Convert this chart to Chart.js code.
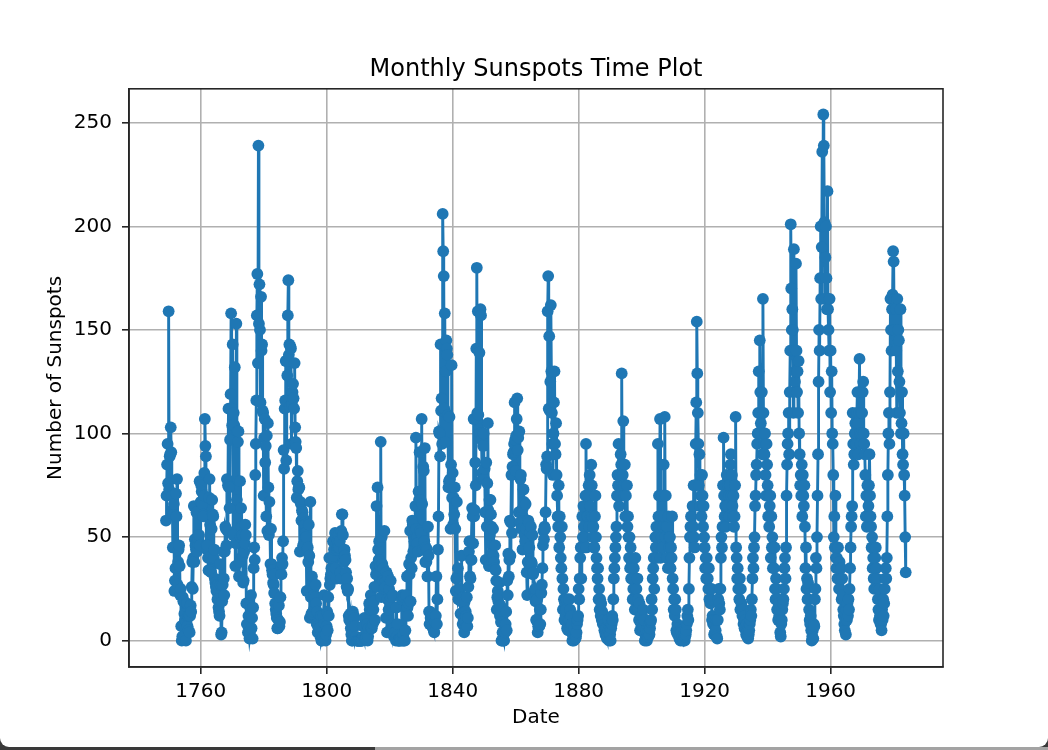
<!DOCTYPE html>
<html>
<head>
<meta charset="utf-8">
<script src="https://cdn.jsdelivr.net/npm/chart.js@4.4.1/dist/chart.umd.min.js"></script>
<style>
  html, body { margin: 0; padding: 0; }
  body { width: 1048px; height: 750px; background: #3a3a3a; position: relative; overflow: hidden; }
  #win { position: absolute; left: 0; top: 0; width: 1048px; height: 747px; background: #fff;
         border-bottom-left-radius: 9px; border-bottom-right-radius: 9px; }
  #strip { position: absolute; left: 375px; bottom: 0; width: 673px; height: 3px; background: #a3a3a3; }
  #chart { position: absolute; left: 0; top: 0; }
</style>
</head>
<body>
<div id="win"></div>
<div id="strip"></div>
<canvas id="chart" width="1048" height="750"></canvas>
<script>
// monthly sunspot numbers: 6 readings a year (Jan, Mar, May, Jul, Sep, Nov)
const startYear = 1749;
const perYear = 6;
const sunspots = [
  // 1749
  58, 70, 85, 95, 76, 159,
  73, 89, 90, 103, 91, 63,
  70, 45, 61, 66, 24, 29,
  35, 71, 60, 78, 27, 38,
  44, 46, 36, 22, 25, 7,
  0, 2, 21, 19, 8, 13,
  10, 7, 0, 9, 18, 7,
  12, 5, 12, 4, 12, 17,
  14, 26, 38, 25, 40, 65,
  38, 49, 46, 44, 62, 43,
  48, 47, 49, 51, 77, 46,
  // 1760
  67, 75, 72, 66, 61, 60,
  70, 81, 107, 94, 89, 46,
  44, 46, 40, 34, 69, 78,
  56, 34, 33, 54, 68, 61,
  60, 40, 44, 30, 28, 26,
  24, 25, 20, 27, 16, 14,
  12, 37, 27, 3, 4, 19,
  27, 43, 30, 22, 43, 55,
  54, 46, 78, 53, 75, 112,
  74, 64, 97, 119, 158, 112,
  // 1770
  104, 143, 51, 110, 104, 132,
  36, 47, 153, 68, 101, 96,
  101, 31, 38, 77, 50, 64,
  55, 51, 41, 28, 29, 43,
  47, 56, 51, 18, 8, 18,
  4, 12, 4, 1, 3, 15,
  22, 6, 11, 1, 16, 35,
  45, 39, 80, 95, 116, 157,
  177, 134, 239, 153, 172, 150,
  115, 166, 140, 143, 111, 110,
  // 1780
  70, 98, 107, 86, 94, 60,
  99, 53, 105, 74, 51, 67,
  54, 37, 54, 37, 34, 32,
  28, 27, 23, 32, 18, 15,
  13, 11, 6, 6, 10, 17,
  7, 9, 21, 36, 32, 40,
  37, 48, 92, 83, 112, 116,
  135, 87, 135, 128, 157, 174,
  138, 143, 113, 142, 141, 95,
  114, 120, 124, 117, 112, 134,
  // 1790
  103, 96, 93, 69, 77, 82,
  73, 74, 74, 43, 67, 66,
  58, 63, 62, 46, 59, 57,
  56, 56, 52, 50, 24, 44,
  45, 38, 56, 41, 11, 67,
  21, 13, 31, 13, 14, 25,
  22, 16, 21, 27, 18, 8,
  14, 4, 7, 4, 6, 6,
  2, 12, 0, 0, 2, 12,
  2, 22, 8, 2, 0, 3,
  // 1800
  7, 14, 5, 21, 12, 40,
  27, 30, 32, 35, 34, 40,
  48, 41, 44, 48, 52, 35,
  50, 30, 44, 48, 45, 51,
  45, 48, 33, 30, 53, 61,
  61, 51, 39, 38, 44, 41,
  39, 33, 26, 30, 24, 25,
  12, 10, 10, 13, 6, 3,
  0, 0, 14, 7, 12, 11,
  7, 1, 2, 0, 0, 0,
  // 1810
  0, 0, 0, 0, 0, 0,
  0, 0, 0, 7, 2, 1,
  11, 1, 1, 1, 5, 8,
  0, 2, 6, 18, 15, 17,
  22, 6, 6, 19, 8, 15,
  19, 26, 10, 36, 32, 65,
  26, 74, 44, 39, 48, 38,
  36, 96, 21, 50, 37, 29,
  35, 25, 53, 28, 26, 11,
  33, 4, 20, 31, 15, 25,
  // 1820
  19, 5, 29, 21, 5, 8,
  22, 6, 2, 3, 4, 4,
  0, 16, 2, 8, 0, 0,
  0, 1, 0, 1, 0, 20,
  22, 0, 3, 0, 21, 0,
  5, 22, 15, 31, 16, 12,
  18, 37, 32, 53, 19, 40,
  35, 58, 56, 43, 50, 48,
  53, 65, 98, 54, 50, 47,
  43, 72, 68, 91, 53, 68,
  // 1830
  52, 107, 66, 44, 84, 82,
  48, 93, 38, 45, 38, 44,
  31, 55, 41, 14, 8, 14,
  11, 12, 13, 7, 12, 6,
  5, 4, 9, 9, 12, 31,
  8, 20, 44, 60, 101, 100,
  89, 143, 111, 117, 95, 206,
  188, 176, 112, 158, 96, 130,
  145, 141, 138, 109, 74, 77,
  108, 78, 54, 85, 133, 69,
  // 1840
  81, 56, 69, 61, 74, 54,
  24, 30, 67, 31, 35, 20,
  20, 22, 25, 13, 19, 41,
  13, 8, 21, 10, 4, 19,
  9, 14, 12, 21, 7, 11,
  26, 43, 48, 31, 30, 39,
  39, 64, 60, 47, 107, 60,
  63, 86, 75, 141, 180, 110,
  159, 109, 102, 139, 100, 160,
  157, 97, 81, 78, 94, 100,
  // 1850
  78, 83, 62, 39, 86, 55,
  76, 105, 63, 36, 68, 51,
  68, 61, 55, 42, 38, 54,
  41, 38, 35, 46, 34, 29,
  15, 21, 24, 19, 22, 28,
  12, 17, 9, 0, 0, 4,
  1, 0, 0, 5, 4, 8,
  14, 5, 29, 22, 42, 31,
  39, 58, 41, 57, 80, 52,
  84, 90, 91, 95, 115, 97,
  // 1860
  82, 99, 107, 117, 92, 98,
  62, 101, 57, 78, 80, 54,
  63, 44, 64, 73, 67, 51,
  48, 66, 54, 33, 22, 38,
  58, 57, 45, 36, 52, 55,
  38, 37, 51, 32, 33, 22,
  24, 25, 19, 10, 10, 20,
  4, 7, 7, 7, 15, 8,
  15, 23, 27, 35, 46, 53,
  49, 55, 54, 62, 85, 83,
  // 1870
  89, 159, 176, 112, 147, 111,
  125, 162, 130, 110, 95, 80,
  100, 115, 130, 95, 90, 105,
  80, 70, 60, 55, 75, 45,
  60, 50, 40, 35, 55, 30,
  15, 25, 20, 10, 18, 12,
  15, 20, 6, 8, 5, 10,
  20, 10, 15, 6, 12, 8,
  0, 3, 2, 0, 6, 1,
  1, 2, 4, 8, 10, 12,
  // 1880
  25, 20, 30, 40, 45, 30,
  45, 60, 50, 65, 55, 45,
  50, 70, 95, 45, 60, 70,
  60, 75, 55, 80, 65, 60,
  85, 75, 60, 50, 55, 45,
  45, 60, 70, 50, 40, 35,
  30, 35, 20, 25, 15, 20,
  12, 18, 10, 14, 8, 12,
  10, 5, 8, 3, 6, 2,
  1, 3, 10, 5, 0, 4,
  // 1890
  3, 0, 6, 8, 12, 10,
  20, 30, 35, 40, 45, 50,
  55, 70, 80, 75, 95, 65,
  70, 80, 90, 85, 129, 75,
  80, 106, 75, 70, 85, 60,
  70, 60, 75, 55, 60, 50,
  40, 50, 35, 45, 30, 38,
  30, 20, 25, 35, 20, 15,
  40, 20, 25, 15, 30, 20,
  15, 10, 18, 5, 12, 8,
  // 1900
  8, 12, 6, 15, 5, 10,
  0, 3, 1, 5, 0, 2,
  4, 2, 8, 3, 6, 9,
  10, 20, 15, 30, 35, 40,
  25, 40, 50, 45, 55, 40,
  50, 95, 60, 70, 55, 107,
  40, 60, 50, 70, 45, 55,
  85, 60, 108, 50, 70, 55,
  40, 55, 35, 60, 50, 45,
  50, 35, 45, 40, 60, 30,
  // 1910
  25, 15, 20, 12, 20, 15,
  5, 4, 8, 3, 6, 4,
  1, 3, 0, 5, 4, 2,
  2, 0, 0, 3, 0, 2,
  3, 5, 8, 12, 15, 10,
  25, 40, 50, 55, 60, 50,
  50, 65, 55, 75, 50, 45,
  75, 95, 115, 154, 129, 110,
  95, 75, 90, 65, 80, 70,
  60, 80, 70, 55, 65, 50,
  // 1920
  45, 35, 40, 30, 40, 35,
  30, 25, 35, 20, 25, 18,
  20, 25, 10, 12, 8, 10,
  3, 8, 4, 5, 10, 2,
  1, 10, 20, 25, 18, 15,
  25, 40, 50, 45, 55, 75,
  98, 70, 60, 65, 55, 65,
  80, 65, 60, 75, 70, 60,
  75, 85, 90, 70, 80, 65,
  60, 70, 55, 60, 75, 108,
  // 1930
  45, 40, 30, 35, 25, 30,
  20, 30, 15, 25, 18, 15,
  12, 15, 8, 10, 6, 12,
  10, 3, 8, 2, 5, 1,
  3, 5, 8, 10, 15, 12,
  20, 30, 40, 35, 45, 50,
  65, 70, 80, 85, 95, 100,
  110, 130, 100, 145, 120, 105,
  100, 120, 90, 165, 110, 95,
  90, 100, 80, 70, 95, 85,
  // 1940
  75, 60, 70, 55, 65, 70,
  40, 60, 45, 50, 35, 45,
  35, 45, 25, 20, 30, 25,
  15, 20, 10, 18, 12, 15,
  4, 2, 8, 10, 15, 18,
  20, 25, 35, 40, 30, 45,
  70, 85, 95, 100, 110, 90,
  120, 140, 201, 170, 150, 160,
  150, 110, 189, 140, 125, 130,
  182, 140, 120, 130, 110, 135,
  // 1950
  100, 90, 75, 80, 70, 85,
  60, 80, 70, 65, 75, 55,
  35, 45, 25, 30, 20, 28,
  20, 15, 10, 8, 12, 5,
  0, 2, 5, 1, 8, 7,
  20, 25, 40, 35, 50, 70,
  90, 125, 150, 140, 175, 200,
  165, 190, 236, 200, 254, 239,
  202, 165, 185, 200, 175, 160,
  217, 160, 150, 140, 165, 120,
  // 1960
  140, 110, 130, 100, 95, 80,
  50, 60, 45, 70, 40, 35,
  40, 30, 45, 35, 25, 38,
  25, 30, 35, 20, 30, 22,
  15, 12, 8, 5, 10, 3,
  15, 10, 18, 12, 20, 15,
  25, 35, 45, 55, 60, 65,
  110, 95, 85, 90, 100, 105,
  100, 95, 110, 120, 105, 90,
  110, 136, 100, 95, 110, 100,
  // 1970
  110, 120, 125, 100, 95, 90,
  80, 60, 70, 55, 75, 60,
  65, 75, 90, 70, 60, 55,
  45, 50, 35, 40, 30, 25,
  30, 40, 45, 35, 30, 25,
  20, 15, 10, 25, 12, 8,
  8, 5, 15, 10, 20, 12,
  18, 25, 30, 35, 30, 40,
  60, 80, 100, 110, 95, 120,
  165, 150, 140, 160, 167, 188,
  // 1980
  183, 150, 165, 145, 160, 140,
  110, 165, 130, 150, 145, 125,
  110, 160, 100, 105, 120, 90,
  85, 100, 80, 70, 50, 33
];
const xTicks = [1760, 1800, 1840, 1880, 1920, 1960];
const yTicks = [0, 50, 100, 150, 200, 250];

const points = sunspots.map((v, i) => ({ x: startYear + i / perYear, y: v }));

const font = { family: 'DejaVu Sans', size: 20 };

// matplotlib draws all four spines
const spines = {
  id: 'spines',
  afterDraw(chart) {
    const { ctx, chartArea: a } = chart;
    ctx.save();
    ctx.strokeStyle = '#262626';
    ctx.lineWidth = 1.6;
    ctx.strokeRect(a.left, a.top, a.right - a.left, a.bottom - a.top);
    ctx.restore();
  }
};

new Chart(document.getElementById('chart'), {
  type: 'line',
  data: {
    datasets: [{
      data: points,
      borderColor: '#1f77b4',
      backgroundColor: '#1f77b4',
      borderWidth: 2.9,
      pointRadius: 5.9,
      pointBorderWidth: 0,
      pointBackgroundColor: '#1f77b4',
      tension: 0
    }]
  },
  options: {
    responsive: false,
    devicePixelRatio: 1,
    animation: false,
    events: [],
    // left 24 so the title centres over the plot area
    layout: { padding: { left: 24, right: 0, top: 0, bottom: 0 } },
    plugins: {
      legend: { display: false },
      tooltip: { enabled: false },
      title: {
        display: true,
        text: 'Monthly Sunspots Time Plot',
        color: '#000',
        font: { family: 'DejaVu Sans', size: 24, weight: 'normal' },
        padding: { top: 55, bottom: 5 }
      }
    },
    scales: {
      x: {
        type: 'linear',
        min: 1737.25,
        max: 1995.67,
        afterBuildTicks: s => { s.ticks = xTicks.map(v => ({ value: v })); },
        afterFit: s => { s.height = 83; },
        ticks: { color: '#000', font, padding: 6, maxRotation: 0, autoSkip: false, callback: v => String(v) },
        grid: { color: '#b0b0b0', lineWidth: 1.6, tickLength: 7, tickColor: '#262626', tickWidth: 1.6 },
        border: { color: '#262626', width: 1.6 },
        title: { display: true, text: 'Date', color: '#000', font, padding: { top: 0, bottom: 20 } }
      },
      y: {
        type: 'linear',
        min: -12.7,
        max: 266.4,
        afterBuildTicks: s => { s.ticks = yTicks.map(v => ({ value: v })); },
        afterFit: s => { s.width = 105; },
        ticks: { color: '#000', font, padding: 10, callback: v => String(v) },
        grid: { color: '#b0b0b0', lineWidth: 1.6, tickLength: 7, tickColor: '#262626', tickWidth: 1.6 },
        border: { color: '#262626', width: 1.6 },
        title: { display: true, text: 'Number of Sunspots', color: '#000', font, padding: { top: 20, bottom: 0 } }
      },
      // empty right margin
      yPad: {
        position: 'right',
        display: true,
        afterFit: s => { s.width = 105; },
        ticks: { display: false },
        grid: { display: false },
        border: { display: false }
      }
    }
  },
  plugins: [spines]
});
</script>
</body>
</html>
